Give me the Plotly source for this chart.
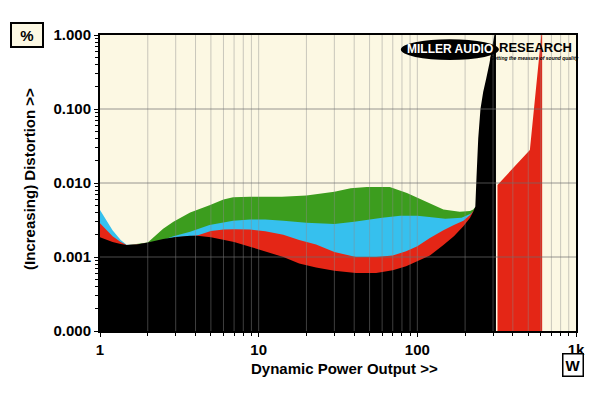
import plotly.graph_objects as go

# ---------------- data ----------------
black_x = [1, 1.1, 1.2, 1.35, 1.47, 1.7, 2.0, 2.5, 3.0, 3.7, 4.1, 5.0, 6.0, 7.0, 8.8, 11, 14.3, 18, 23, 30, 41, 55, 70, 85,
           100, 120, 146, 170, 195, 215, 225, 232, 236, 242, 250, 260, 272, 285, 300, 313]
black_y = [0.00185, 0.0017, 0.0016, 0.0015, 0.00145, 0.00148, 0.00157, 0.00175, 0.00187, 0.00194, 0.00193, 0.00185,
           0.00173, 0.0016, 0.00138, 0.00118, 0.0010, 0.00082, 0.00072, 0.00065, 0.00061, 0.00061, 0.00066, 0.00075,
           0.00087, 0.00105, 0.00145, 0.0019, 0.0026, 0.0034, 0.0041, 0.0048, 0.012, 0.04, 0.1, 0.17, 0.26, 0.42, 0.8, 1.3]

red_x = [1, 1.1, 1.2, 1.35, 1.47, 1.7, 2.0, 3.0, 4.1, 5.0, 6.0, 7.0, 8.8, 11, 14.3, 18, 23, 30, 41, 55, 70, 85, 100,
         120, 146, 170, 195, 215, 225, 232]
red_y = [0.00285, 0.0023, 0.0019, 0.0016, 0.00145, 0.00147, 0.00155, 0.00185, 0.00195, 0.00225, 0.00235, 0.00238,
         0.00235, 0.00222, 0.0020, 0.0017, 0.00148, 0.00117, 0.0010, 0.0010, 0.00105, 0.0012, 0.0014, 0.0018, 0.0023,
         0.0027, 0.0031, 0.0037, 0.0041, 0.0045]

red_hi_x = [320, 512, 612]
red_hi_y = [0.0094, 0.028, 1.3]

blue_x = [1, 1.1, 1.2, 1.35, 1.47, 1.7, 2.0, 2.5, 2.9, 3.7, 4.9, 6.9, 8.8, 11, 14.3, 20, 30, 40, 48, 60, 78, 100,
          115, 150, 190, 215, 225, 232]
blue_y = [0.0043, 0.0031, 0.0023, 0.0017, 0.00146, 0.00148, 0.00155, 0.0017, 0.0019, 0.0022, 0.0027, 0.0031, 0.0032,
          0.0032, 0.0031, 0.0029, 0.0028, 0.0030, 0.0032, 0.0034, 0.0036, 0.0036, 0.0035, 0.0033, 0.0034, 0.0038,
          0.0041, 0.0045]

green_x = [1, 1.47, 2.0, 2.5, 2.9, 3.7, 4.9, 6.0, 6.9, 8.8, 14, 20, 30, 38, 48, 67, 86, 115, 146, 185, 215, 225, 232]
green_y = [0.0015, 0.00144, 0.00157, 0.0024, 0.0030, 0.0040, 0.0050, 0.0060, 0.0064, 0.0065, 0.0065, 0.0068, 0.0076,
           0.0085, 0.0088, 0.0088, 0.0073, 0.0056, 0.0044, 0.0041, 0.0042, 0.0044, 0.0047]

x_tickvals = [1, 10, 100, 1000]
x_ticktext = ["1", "10", "100", "1k"]
y_tickvals = [0.0001, 0.001, 0.01, 0.1, 1]
y_ticktext = ["0.000", "0.001", "0.010", "0.100", "1.000"]

X_MIN, X_MAX = 1, 1000
Y_MIN, Y_MAX = 0.0001, 1

GREEN = "#3C9D1E"
BLUE = "#36C0EE"
RED = "#E42616"
BLACK = "#000000"
CREAM = "#FCF8E3"
FONT = "Liberation Sans, Arial, sans-serif"

decades_x = [1, 10, 100]
decades_y = [0.0001, 0.001, 0.01, 0.1]
minor_x = [m * d for d in decades_x for m in range(2, 10)]
minor_y = [m * d for d in decades_y for m in range(2, 10)]


def area(xs, ys, color):
    return go.Scatter(
        x=list(xs) + [xs[-1], xs[0]],
        y=list(ys) + [Y_MIN, Y_MIN],
        mode="lines", fill="toself", fillcolor=color,
        line=dict(width=0, color=color), hoverinfo="skip", showlegend=False,
    )


fig = go.Figure()
fig.add_trace(area(green_x, green_y, GREEN))
fig.add_trace(area(blue_x, blue_y, BLUE))
fig.add_trace(area(red_x, red_y, RED))
fig.add_trace(area(red_hi_x, red_hi_y, RED))
fig.add_trace(area(black_x, black_y, BLACK))

# grid lines drawn above the filled areas
gx, gy = [], []
for v in sorted(minor_x + [10, 100]):
    gx += [v, v, None]
    gy += [Y_MIN, Y_MAX, None]
fig.add_trace(go.Scatter(x=gx, y=gy, mode="lines", line=dict(color="rgba(140,140,140,0.45)", width=1),
                         hoverinfo="skip", showlegend=False))
hx, hy = [], []
for v in [0.001, 0.01, 0.1]:
    hx += [X_MIN, X_MAX, None]
    hy += [v, v, None]
fig.add_trace(go.Scatter(x=hx, y=hy, mode="lines", line=dict(color="rgba(110,110,110,0.7)", width=1),
                         hoverinfo="skip", showlegend=False))

tickfont = dict(family=FONT, size=15, color="black", weight="bold")


def note(text, x, y, **kw):
    d = dict(text=text, xref="paper", yref="paper", x=x, y=y, showarrow=False,
             xanchor="center", yanchor="middle")
    d.update(kw)
    return d


# the page body adds an 8px offset; the figure is sized to fit the window
fig.update_layout(
    width=592, height=390,
    margin=dict(l=92, r=24, t=27, b=67),
    paper_bgcolor="white", plot_bgcolor=CREAM,
    showlegend=False,
    font=dict(family=FONT, color="black"),
    xaxis=dict(
        type="log", range=[0, 3], tickvals=x_tickvals, ticktext=x_ticktext,
        ticks="outside", ticklen=4, tickwidth=1, tickcolor="black", tickfont=tickfont,
        showgrid=False, zeroline=False, showline=True, linecolor="black", linewidth=2, mirror=True,
        minor=dict(tickvals=minor_x, ticks="outside", ticklen=3, tickcolor="black", showgrid=False),
    ),
    yaxis=dict(
        type="log", range=[-4, 0], tickvals=y_tickvals, ticktext=y_ticktext,
        ticks="outside", ticklen=4, tickwidth=1, tickcolor="black", tickfont=tickfont,
        showgrid=False, zeroline=False, showline=True, linecolor="black", linewidth=2, mirror=True,
        minor=dict(tickvals=minor_y, ticks="outside", ticklen=3, tickcolor="black", showgrid=False),
    ),
    shapes=[
        dict(type="circle", xref="paper", yref="paper", x0=0.632, x1=0.838, y0=0.9155, y1=0.986,
             fillcolor="black", line=dict(width=0), layer="above"),
    ],
    annotations=[
        note("(Increasing) Distortion >>", -0.147, 0.514, textangle=-90,
             font=dict(family=FONT, size=15, weight="bold")),
        note("Dynamic Power Output >>", 0.513, -0.125, font=dict(family=FONT, size=15, weight="bold")),
        note("%", -0.154, 1.0, font=dict(family=FONT, size=15, weight="bold"), bgcolor=CREAM,
             bordercolor="black", borderwidth=2, width=28, height=20, borderpad=1),
        note("W", 0.9937, -0.115, font=dict(family=FONT, size=15, weight="bold"), bgcolor="white",
             bordercolor="black", borderwidth=1.5, width=17, height=19, borderpad=1),
        note("MILLER AUDIO", 0.735, 0.953, font=dict(family=FONT, size=12, weight="bold", color="white")),
        note("RESEARCH", 0.914, 0.957, font=dict(family=FONT, size=13, weight="bold", color="black")),
        note("<i>Getting the measure of sound quality</i>", 0.912, 0.921,
             font=dict(family=FONT, size=5, weight="bold", color="black")),
    ],
)

fig.write_html("out.html")
